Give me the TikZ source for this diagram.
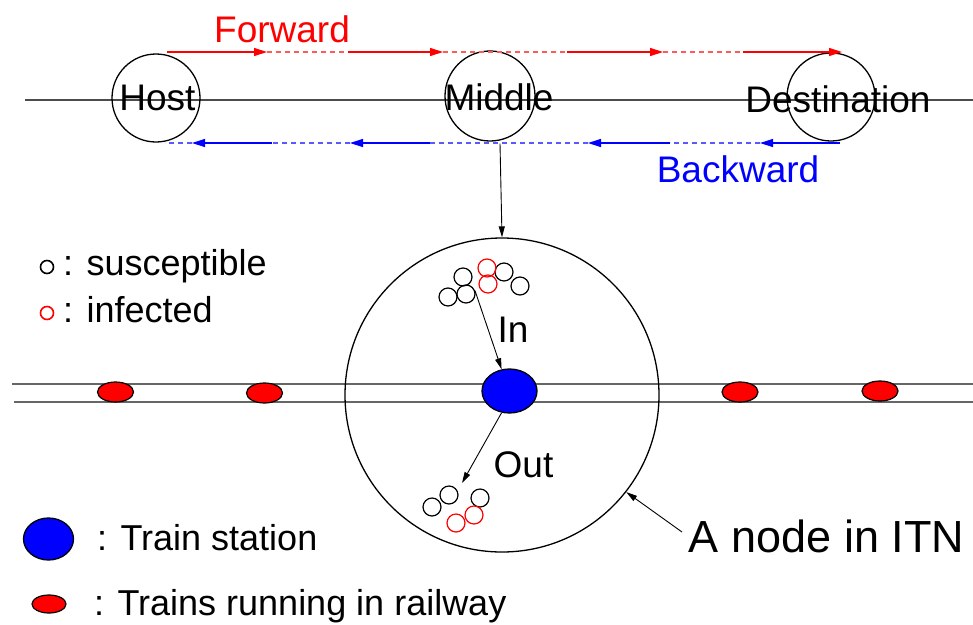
\documentclass[tikz,border=0pt]{standalone}
\usepackage{fontspec}
\setmainfont{Liberation Sans}
\usetikzlibrary{arrows.meta,shapes.geometric}
\begin{document}
\begin{tikzpicture}[x=1pt,y=-1pt,
  lbl/.style={inner sep=0pt, anchor=base, font=\fontsize{37}{40}\selectfont},
  lbll/.style={inner sep=0pt, anchor=base west, font=\fontsize{36}{40}\selectfont},
  bigc/.style={circle, draw, line width=1.3pt, inner sep=0pt},
  tinyc/.style={circle, draw, line width=1.2pt, minimum size=18pt, inner sep=0pt},
  arr/.style={-{Triangle[length=11pt,width=6pt]}, line width=0.9pt},
  fwdsolid/.style={red, line width=1.3pt, -{Triangle[length=13pt,width=8pt]}},
  fwddash/.style={red!65, line width=1.3pt, dash pattern=on 5pt off 4pt},
  bwdsolid/.style={blue, line width=1.3pt, -{Triangle[length=13pt,width=8pt]}},
  bwddash/.style={blue!65, line width=1.3pt, dash pattern=on 5pt off 4pt},
  rail/.style={black!60, line width=1.3pt},
  train/.style={ellipse, draw, fill=red, line width=1.2pt, minimum width=36pt, minimum height=20pt, inner sep=0pt},
  stationst/.style={ellipse, draw, fill=blue, line width=1.3pt, inner sep=0pt}]
\useasboundingbox (0,0) rectangle (973,624);

% top path line
\coordinate (tl) at (25,100);
\coordinate (tr) at (973,100);
\draw[black!70, line width=1.2pt] (tl) -- (tr);

% top circles
\node[bigc, minimum size=88pt] (host) at (156,98) {};
\node[bigc, minimum size=90pt] (middle) at (490,96) {};
\node[bigc, minimum size=88pt] (dest) at (831,97) {};
\node[lbl] (hostt) at (157.5,110) {Host};
\node[lbl] (middlet) at (499,110) {Middle};
\node[lbl] (destt) at (838,112) {Destination};

% forward
\coordinate (f0) at (167,52);
\coordinate (f1) at (267,52);
\coordinate (f2) at (348,52);
\coordinate (f3) at (443,52);
\coordinate (f4) at (567,52);
\coordinate (f5) at (663,52);
\coordinate (f6) at (743,52);
\coordinate (f7) at (842,52);
\draw[fwddash] (f1) -- (f2);
\draw[fwddash] (f3) -- (f4);
\draw[fwddash] (f5) -- (f6);
\draw[fwdsolid] (f0) -- (f1);
\draw[fwdsolid] (f2) -- (f3);
\draw[fwdsolid] (f4) -- (f5);
\draw[fwdsolid] (f6) -- (f7);
\node[lbl, text=red] (fwdt) at (282,42) {Forward};

% backward
\coordinate (b0) at (840,143);
\coordinate (b1) at (760,143);
\coordinate (b2) at (670,143);
\coordinate (b3) at (588,143);
\coordinate (b4) at (430,143);
\coordinate (b5) at (350,143);
\coordinate (b6) at (272,143);
\coordinate (b7) at (192,143);
\coordinate (b8) at (165,143);
\draw[bwddash] (b1) -- (b2);
\draw[bwddash] (b3) -- (b4);
\draw[bwddash] (b5) -- (b6);
\draw[bwddash] (b7) -- (b8);
\draw[bwdsolid] (b0) -- (b1);
\draw[bwdsolid] (b2) -- (b3);
\draw[bwdsolid] (b4) -- (b5);
\draw[bwdsolid] (b6) -- (b7);
\node[lbl, text=blue] (bwdt) at (738,182) {Backward};

% rails
\coordinate (r1l) at (12,384);
\coordinate (r1r) at (973,384);
\coordinate (r2l) at (14,402);
\coordinate (r2r) at (973,402);
\draw[rail] (r1l) -- (r1r);
\draw[rail] (r2l) -- (r2r);

% big ITN node
\node[bigc, minimum size=314pt] (itn) at (502,395) {};
\draw[arr] (middle.south) ++(10,2) -- (itn.north);

% trains
\node[train] (t1) at (115.5,392) {};
\node[train] (t2) at (264.5,393) {};
\node[train] (t3) at (740,392) {};
\node[train] (t4) at (880,391) {};

% station
\node[stationst, minimum width=55pt, minimum height=44pt] (station) at (509.5,391) {};

% passengers in
\node[tinyc] (s1) at (463,277) {};
\node[tinyc] (s2) at (448,297) {};
\node[tinyc] (s3) at (466,294) {};
\node[tinyc] (s4) at (504,272) {};
\node[tinyc] (s5) at (520,286) {};
\node[tinyc, draw=red] (s6) at (487,268) {};
\node[tinyc, draw=red] (s7) at (488,284) {};
% passengers out
\node[tinyc] (o1) at (432,507) {};
\node[tinyc] (o2) at (449,495) {};
\node[tinyc] (o3) at (480,498) {};
\node[tinyc, draw=red] (o4) at (456,523) {};
\node[tinyc, draw=red] (o5) at (474,515) {};

\draw[arr] (s3.20) -- (station.110);
\coordinate (outend) at (462,483);
\draw[arr] (station.250) -- (outend);
\node[lbl] (int) at (513,342) {In};
\node[lbl] (outt) at (523.5,477) {Out};

% ITN label
\node[inner sep=0pt, anchor=base, font=\fontsize{45}{48}\selectfont] (itnt) at (826.5,552) {A node in ITN};
\coordinate (itnarr) at (682,532);
\draw[arr] (itnarr) -- (itn.-38);

% legend
\node[circle, draw, line width=1.6pt, minimum size=13pt, inner sep=0pt] (lg1) at (47,267) {};
\node[lbll] (lg1t) at (63,275) {: susceptible};
\node[circle, draw=red, line width=1.6pt, minimum size=13pt, inner sep=0pt] (lg2) at (47,313) {};
\node[lbll] (lg2t) at (63,322) {: infected};
\node[stationst, minimum width=50pt, minimum height=42pt] (lg3) at (48.5,539) {};
\node[lbll] (lg3t) at (97,550) {: Train station};
\node[train, minimum width=34pt, minimum height=18pt] (lg4) at (49,604) {};
\node[lbll] (lg4t) at (94,615) {: Trains running in railway};
\end{tikzpicture}
\end{document}
